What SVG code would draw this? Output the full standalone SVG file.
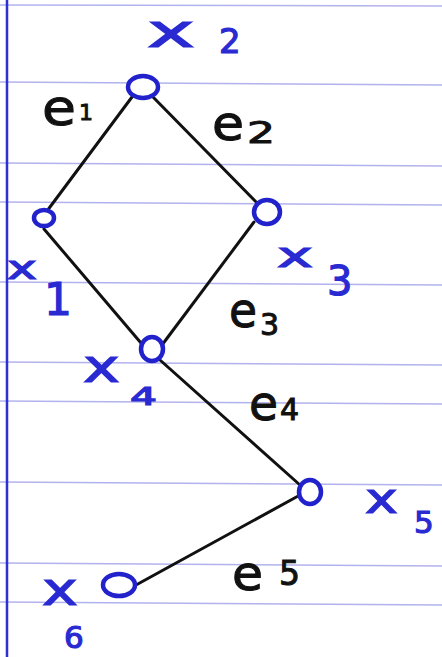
<svg xmlns="http://www.w3.org/2000/svg" width="442" height="657" viewBox="0 0 442 657">
<style>
.rule{stroke:#8080e4;stroke-width:1.5;opacity:0.6}
.margin{stroke:#2f2fd6;stroke-width:2.5}
.node{fill:#ffffff;stroke:#2222cc;stroke-width:4.5}
.edge{stroke:#111111;stroke-width:3;stroke-linecap:round;fill:none}
.xl{fill:#2a2ad2;stroke:#2a2ad2;stroke-width:1.2;font-family:"DejaVu Sans",sans-serif}
.el{fill:#111111;stroke:#111111;stroke-width:1;font-family:"DejaVu Sans",sans-serif}
</style>
<rect width="442" height="657" fill="#ffffff"/>
<g id="paper">
<line class="rule" x1="0" y1="5" x2="442" y2="6"/>
<line class="rule" x1="0" y1="82" x2="442" y2="85"/>
<line class="rule" x1="0" y1="163" x2="442" y2="166"/>
<line class="rule" x1="0" y1="202" x2="442" y2="205"/>
<line class="rule" x1="0" y1="282" x2="442" y2="285"/>
<line class="rule" x1="0" y1="362" x2="442" y2="365"/>
<line class="rule" x1="0" y1="401" x2="442" y2="404"/>
<line class="rule" x1="0" y1="482" x2="442" y2="485"/>
<line class="rule" x1="0" y1="563" x2="442" y2="566"/>
<line class="rule" x1="0" y1="602" x2="442" y2="605"/>
<line class="margin" x1="7" y1="0" x2="7" y2="657"/>
</g>
<g id="connectors">
<g id="e1"><line class="edge" x1="132" y1="97" x2="47" y2="211"/><text class="el" x="42" y="125" font-size="50" textLength="34" lengthAdjust="spacingAndGlyphs">e</text><text class="el" x="79" y="120" font-size="22">1</text></g>
<g id="e2"><line class="edge" x1="153" y1="97" x2="258" y2="204"/><text class="el" x="212" y="140" font-size="48" textLength="32" lengthAdjust="spacingAndGlyphs">e</text><text class="el" x="247" y="143" font-size="30" textLength="28" lengthAdjust="spacingAndGlyphs">2</text></g>
<g id="e3"><line class="edge" x1="254" y1="222" x2="162" y2="345"/><text class="el" x="229" y="327" font-size="48" textLength="28" lengthAdjust="spacingAndGlyphs">e</text><text class="el" x="260" y="335" font-size="30">3</text></g>
<g id="e-x1x4"><line class="edge" x1="44" y1="229" x2="141" y2="343"/></g>
<g id="e4"><line class="edge" x1="160" y1="360" x2="300" y2="485"/><text class="el" x="249" y="420" font-size="48" textLength="29" lengthAdjust="spacingAndGlyphs">e</text><text class="el" x="280" y="420" font-size="30">4</text></g>
<g id="e5"><line class="edge" x1="300" y1="495" x2="136" y2="585"/><text class="el" x="232" y="590" font-size="48" textLength="31" lengthAdjust="spacingAndGlyphs">e</text><text class="el" x="279" y="585" font-size="33">5</text></g>
</g>
<g id="x2"><ellipse class="node" cx="143" cy="87" rx="15" ry="11"/><text class="xl" x="147" y="47" font-size="46" textLength="48" lengthAdjust="spacingAndGlyphs">x</text><text class="xl" x="219" y="53" font-size="34">2</text></g>
<g id="x1"><ellipse class="node" cx="44" cy="218" rx="10" ry="8"/><text class="xl" x="7" y="279" font-size="32" textLength="30" lengthAdjust="spacingAndGlyphs">x</text><text class="xl" x="44" y="315" font-size="44">1</text></g>
<g id="x3"><ellipse class="node" cx="267" cy="212" rx="13" ry="12"/><text class="xl" x="277" y="267" font-size="34" textLength="36" lengthAdjust="spacingAndGlyphs">x</text><text class="xl" x="327" y="295" font-size="40">3</text></g>
<g id="x4"><ellipse class="node" cx="152" cy="349" rx="11" ry="12"/><text class="xl" x="83" y="382" font-size="46" textLength="37" lengthAdjust="spacingAndGlyphs">x</text><text class="xl" x="130" y="405" font-size="25" textLength="27" lengthAdjust="spacingAndGlyphs">4</text></g>
<g id="x5"><ellipse class="node" cx="310" cy="492" rx="11" ry="12"/><text class="xl" x="365" y="513" font-size="42" textLength="33" lengthAdjust="spacingAndGlyphs">x</text><text class="xl" x="414" y="533" font-size="31">5</text></g>
<g id="x6"><ellipse class="node" cx="119" cy="585" rx="16" ry="11"/><text class="xl" x="42" y="605" font-size="46" textLength="36" lengthAdjust="spacingAndGlyphs">x</text><text class="xl" x="64" y="648" font-size="31">6</text></g>
</svg>
